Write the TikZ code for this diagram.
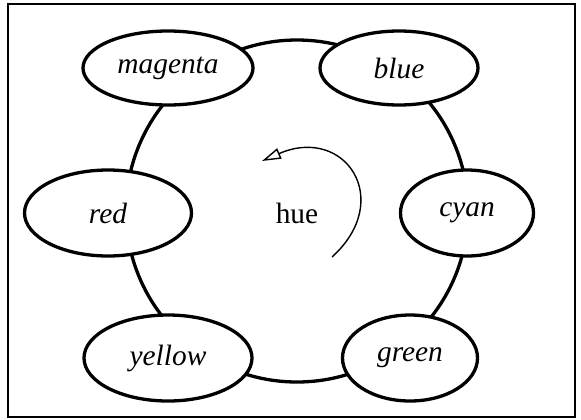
\documentclass[tikz,border=0pt]{standalone}
\usepackage{fontspec}
\setmainfont{Liberation Serif}
\usetikzlibrary{shapes.geometric,arrows.meta}
\begin{document}
\begin{tikzpicture}[x=1bp,y=-1bp,
  colornode/.style={ellipse,draw,line width=3.3bp,fill=white,inner sep=0pt,
    font=\fontsize{29.5}{34}\selectfont\itshape},
  ring/.style={line width=3.3bp},
  huearrow/.style={line width=1.4bp,-{Triangle[open,length=19bp,width=11bp]}}]
\useasboundingbox (0,0) rectangle (581,419);
% outer frame
\draw[line width=1.3bp] (8,4) rectangle (575,417);
% colour wheel ring
\draw[ring] (297,211) circle[radius=171bp];
% the six hues
\node[colornode,minimum width=170bp,minimum height=74bp] (magenta) at (168,68) {magenta};
\node[colornode,minimum width=158bp,minimum height=74bp] (blue) at (399,68) {blue};
\node[colornode,minimum width=167bp,minimum height=86bp] (red) at (108,213) {red};
\node[colornode,minimum width=133bp,minimum height=86bp] (cyan) at (467,213) {cyan};
\node[colornode,minimum width=168bp,minimum height=86bp] (yellow) at (168,358) {yellow};
\node[colornode,minimum width=135bp,minimum height=86bp] (green) at (410,358) {green};
% centre label and rotation arrow
\node[font=\fontsize{29.5}{34}\selectfont] (hue) at (297,213) {hue};
\coordinate (arrstart) at (332,257);
\coordinate (arrend) at (262,161);
\draw[huearrow] (arrstart) .. controls (395,200) and (345,125) .. (arrend);
\end{tikzpicture}
\end{document}
